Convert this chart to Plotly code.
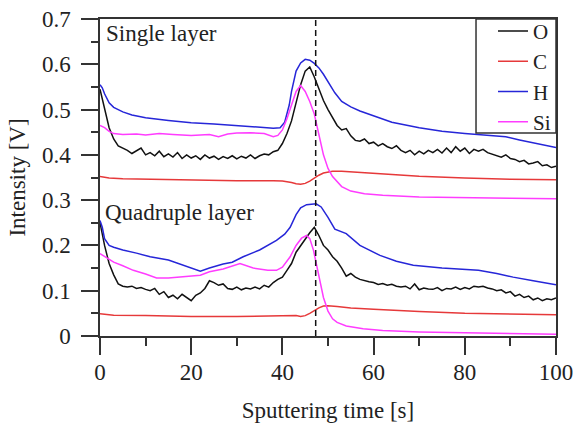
import plotly.graph_objects as go

# ---------------- data ----------------
t_sec = list(range(0, 101))

# Single layer
O1 = [0.545, 0.50, 0.46, 0.435, 0.42, 0.415, 0.41, 0.403, 0.41, 0.415,
      0.40, 0.405, 0.398, 0.408, 0.396, 0.402, 0.395, 0.405, 0.392, 0.40,
      0.393, 0.398, 0.39, 0.40, 0.393, 0.397, 0.39, 0.396, 0.392, 0.398,
      0.391, 0.397, 0.393, 0.40, 0.392, 0.398, 0.402, 0.40, 0.407, 0.41,
      0.425, 0.447, 0.475, 0.515, 0.555, 0.585, 0.594, 0.572, 0.545, 0.52,
      0.50, 0.483, 0.465, 0.455, 0.458, 0.442, 0.432, 0.43, 0.435, 0.425,
      0.428, 0.42, 0.425, 0.418, 0.414, 0.42, 0.41, 0.405, 0.41, 0.40,
      0.408, 0.402, 0.41, 0.405, 0.412, 0.404, 0.415, 0.405, 0.418, 0.408,
      0.415, 0.403, 0.412, 0.408, 0.412, 0.405, 0.402, 0.398, 0.395, 0.40,
      0.392, 0.39, 0.385, 0.388, 0.38, 0.382, 0.385, 0.376, 0.378, 0.372,
      0.375]

t_H1 = [0, 0.5, 1, 2, 3, 5, 7, 10, 15, 20, 25, 30, 35, 38, 39.5, 40.5, 41.5, 42, 43, 44,
        45, 46, 47, 48, 49, 50, 51.5, 53, 55, 57, 60, 64, 70, 75, 80, 85, 89, 92, 95, 100]
H1 = [0.555, 0.548, 0.535, 0.515, 0.505, 0.495, 0.488, 0.482, 0.476, 0.471,
      0.468, 0.465, 0.462, 0.459, 0.46, 0.472, 0.51, 0.54, 0.585, 0.603,
      0.611, 0.609, 0.602, 0.592, 0.578, 0.562, 0.537, 0.518, 0.506, 0.497,
      0.486, 0.472, 0.46, 0.452, 0.447, 0.444, 0.44, 0.433, 0.426, 0.416]

t_Si1 = [0, 1, 2, 3, 5, 8, 10, 13, 16, 20, 24, 26, 28, 30, 33, 36, 38, 39, 40, 41,
         42, 43, 44, 45, 46, 47, 48, 49, 50, 51, 53, 55, 58, 62, 70, 80, 90, 100]
Si1 = [0.465, 0.46, 0.452, 0.447, 0.445, 0.446, 0.444, 0.447, 0.445, 0.443,
       0.445, 0.44, 0.446, 0.448, 0.449, 0.447, 0.44, 0.443, 0.455, 0.48,
       0.51, 0.54, 0.553, 0.54, 0.518, 0.49, 0.445, 0.40, 0.37, 0.352,
       0.33, 0.32, 0.314, 0.311, 0.307, 0.305, 0.304, 0.303]

t_C1 = [0, 2, 5, 10, 20, 30, 38, 40, 42, 43, 44, 45, 46, 47, 48, 49, 50, 51, 53, 56,
        60, 65, 70, 80, 90, 100]
C1 = [0.352, 0.349, 0.347, 0.346, 0.344, 0.343, 0.343, 0.342, 0.339, 0.336,
      0.335, 0.337, 0.342, 0.349, 0.355, 0.36, 0.362, 0.364, 0.364, 0.362,
      0.359, 0.356, 0.353, 0.349, 0.346, 0.345]

# Quadruple layer
O2 = [0.25, 0.20, 0.16, 0.135, 0.115, 0.11, 0.108, 0.11, 0.105, 0.107,
      0.103, 0.10, 0.105, 0.092, 0.098, 0.085, 0.09, 0.082, 0.092, 0.085,
      0.078, 0.09, 0.095, 0.105, 0.122, 0.118, 0.112, 0.115, 0.105, 0.103,
      0.108, 0.102, 0.106, 0.104, 0.108, 0.104, 0.112, 0.108, 0.118, 0.125,
      0.13, 0.145, 0.16, 0.185, 0.20, 0.215, 0.228, 0.24, 0.222, 0.20,
      0.19, 0.175, 0.165, 0.15, 0.132, 0.138, 0.13, 0.125, 0.122, 0.12,
      0.118, 0.114, 0.116, 0.112, 0.114, 0.11, 0.108, 0.11, 0.104, 0.115,
      0.102, 0.106, 0.104, 0.103, 0.107, 0.10, 0.105, 0.104, 0.108, 0.103,
      0.107, 0.104, 0.11, 0.108, 0.11, 0.106, 0.104, 0.10, 0.102, 0.095,
      0.098, 0.088, 0.092, 0.085, 0.088, 0.08, 0.084, 0.078, 0.082, 0.08,
      0.084]

t_H2 = [0, 0.5, 1, 2, 3, 5, 8, 11, 15, 18, 22, 24, 27, 29, 31.4, 35, 38.7, 40.5, 41.7, 43,
        44, 45.3, 47.4, 48.5, 50, 51.5, 54, 57, 61.4, 65, 68.7, 75, 83, 87, 90.6, 95, 100]
H2 = [0.255, 0.24, 0.215, 0.20, 0.196, 0.19, 0.183, 0.175, 0.168, 0.158,
      0.143, 0.15, 0.159, 0.163, 0.175, 0.19, 0.211, 0.225, 0.24, 0.268,
      0.283, 0.29, 0.292, 0.285, 0.262, 0.236, 0.226, 0.20, 0.178, 0.165,
      0.156, 0.15, 0.145, 0.138, 0.13, 0.122, 0.113]

t_Si2 = [0, 1, 3, 5, 7.3, 10, 12.4, 15, 18, 22, 24, 27, 30.7, 33.6, 36.8, 38.7, 40, 41.7, 43, 44.2,
         45.3, 46, 46.8, 48, 49, 50, 51, 52, 54, 57.7, 62, 70, 76, 85, 100]
Si2 = [0.182, 0.175, 0.163, 0.155, 0.145, 0.137, 0.128, 0.128, 0.13, 0.134,
       0.142, 0.148, 0.16, 0.15, 0.145, 0.145, 0.152, 0.175, 0.20, 0.216,
       0.222, 0.215, 0.19, 0.135, 0.085, 0.055, 0.038, 0.03, 0.022, 0.016,
       0.012, 0.009, 0.008, 0.006, 0.004]

t_C2 = [0, 3, 10, 20, 30, 40, 43, 44, 45, 46, 47, 48, 49, 50, 52, 55, 60, 65, 70, 80, 90, 100]
C2 = [0.049, 0.046, 0.045, 0.043, 0.043, 0.044, 0.045, 0.043, 0.045, 0.05,
      0.056, 0.062, 0.066, 0.067, 0.065, 0.062, 0.059, 0.056, 0.054, 0.05,
      0.048, 0.047]

interface_time = 47.3
y_tickvals = [0, 0.1, 0.2, 0.3, 0.4, 0.5, 0.6, 0.7]
y_ticktext = ["0", "0.1", "0.2", "0.3", "0.4", "0.5", "0.6", "0.7"]
x_tickvals = [0, 20, 40, 60, 80, 100]

# ---------------- style ----------------
FONT = "Liberation Serif"
FS = 23
TXT = "#222222"
AX = "#333333"
COL = {"O": "#111111", "C": "#e6393a", "H": "#2626d8", "Si": "#ff3cff"}
LW = 1.5

fig = go.Figure()

series = [
    ("O", t_sec, O1, t_sec, O2),
    ("C", t_C1, C1, t_C2, C2),
    ("H", t_H1, H1, t_H2, H2),
    ("Si", t_Si1, Si1, t_Si2, Si2),
]
for name, tx1, y1, tx2, y2 in series:
    fig.add_trace(go.Scatter(x=tx1, y=y1, mode="lines", name=name, legendgroup=name,
                             line=dict(color=COL[name], width=LW)))
    fig.add_trace(go.Scatter(x=tx2, y=y2, mode="lines", name=name, legendgroup=name,
                             showlegend=False, line=dict(color=COL[name], width=LW)))

fig.add_trace(go.Scatter(x=[interface_time, interface_time], y=[0, 0.7], mode="lines",
                         showlegend=False, line=dict(color="#111111", width=1.5, dash="6px,4px")))

fig.add_annotation(text="Single layer", xref="paper", yref="paper", x=0.008, y=0.955,
                   xanchor="left", yanchor="middle", showarrow=False,
                   font=dict(family=FONT, size=FS, color=TXT))
fig.add_annotation(text="Quadruple layer", xref="paper", yref="paper", x=0.006, y=0.39,
                   xanchor="left", yanchor="middle", showarrow=False,
                   font=dict(family=FONT, size=FS, color=TXT))

# legend frame (the legend itself is plotly's own legend drawn on top)
fig.add_shape(type="rect", xref="paper", yref="paper", x0=0.8246, x1=1.0, y0=0.64, y1=1.0,
              line=dict(color=AX, width=1.5), fillcolor="white", layer="above")

axis_common = dict(showline=True, linecolor=AX, linewidth=1.5, mirror=True,
                   showgrid=False, zeroline=False, ticks="outside", ticklen=17,
                   tickwidth=1.5, tickcolor=AX, automargin=False,
                   tickfont=dict(family=FONT, size=FS, color=TXT))

fig.update_xaxes(range=[0, 100], tickvals=x_tickvals,
                 minor=dict(dtick=10, ticks="outside", ticklen=8, tickwidth=1.5, tickcolor=AX),
                 title=dict(text="Sputtering time [s]", font=dict(family=FONT, size=FS, color=TXT), standoff=18),
                 ticklabelstandoff=-2,
                 **axis_common)
fig.update_yaxes(range=[0, 0.7], tickvals=y_tickvals, ticktext=y_ticktext,
                 minor=dict(dtick=0.05, ticks="outside", ticklen=7, tickwidth=1.5, tickcolor=AX),
                 title=dict(text="Intensity [V]", font=dict(family=FONT, size=FS, color=TXT), standoff=10),
                 ticklabelstandoff=6,
                 **axis_common)

fig.update_layout(
    width=576, height=428,
    margin=dict(l=100, r=20, t=19, b=92, autoexpand=False),
    paper_bgcolor="white", plot_bgcolor="white",
    showlegend=True,
    legend=dict(x=1, y=1.026, xanchor="right", yanchor="top",
                bgcolor="rgba(0,0,0,0)", borderwidth=0,
                font=dict(family=FONT, size=21, color=TXT),
                tracegroupgap=0, itemwidth=30),
)

fig.write_html("out.html")
